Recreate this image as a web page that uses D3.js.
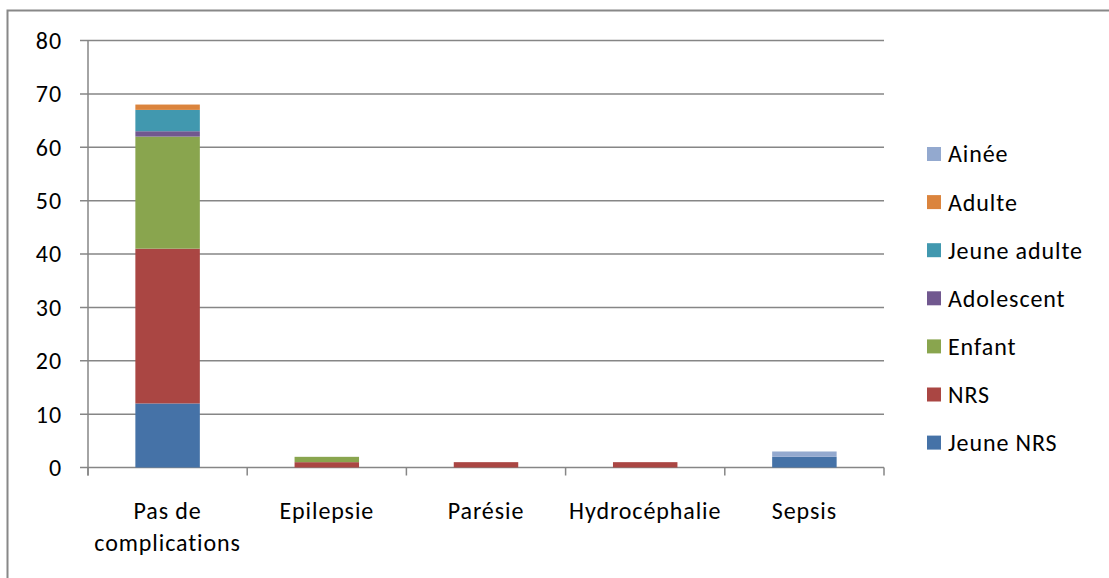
<!DOCTYPE html>
<html><head><meta charset="utf-8">
<script src="https://cdn.jsdelivr.net/npm/d3@7"></script>
<style>body{margin:0;background:#fff}svg text{font-family:"Carlito","Lato","Open Sans",sans-serif;fill:#000;letter-spacing:0.9px}</style>
</head><body>
<svg id="c" width="1109" height="578"></svg>
<script>
const categories = ["Pas de complications","Epilepsie","Parésie","Hydrocéphalie","Sepsis"];
const categoryLines = [["Pas de","complications"],["Epilepsie"],["Parésie"],["Hydrocéphalie"],["Sepsis"]];
const seriesNames = ["Jeune NRS","NRS","Enfant","Adolescent","Jeune adulte","Adulte","Ainée"];
const jeuneNRS   = [12,0,0,0,2];
const nrs        = [29,1,1,1,0];
const enfant     = [21,1,0,0,0];
const adolescent = [1,0,0,0,0];
const jeuneAdulte= [4,0,0,0,0];
const adulte     = [1,0,0,0,0];
const ainee      = [0,0,0,0,1];
const yTicks = [0,10,20,30,40,50,60,70,80];
const colors = ["#4572A7","#AA4643","#89A54E","#71588F","#4198AF","#DB843D","#93A9CF"];

const seriesValues = [jeuneNRS,nrs,enfant,adolescent,jeuneAdulte,adulte,ainee];
const rows = categories.map((c,i)=>{const r={cat:c};seriesNames.forEach((s,j)=>r[s]=seriesValues[j][i]);return r;});
const stacked = d3.stack().keys(seriesNames)(rows);

const svg = d3.select("#c");
svg.append("rect").attr("x",7.5).attr("y",10.5).attr("width",1200).attr("height",700)
  .attr("fill","none").attr("stroke","#888").attr("stroke-width",2);

const L=88, R=884, T=40.5, B=467.5;
const x = d3.scaleBand().domain(categories).range([L,R]).padding(0);
const y = d3.scaleLinear().domain([0,80]).range([B,T]);
const grey="#868686";

svg.append("g").selectAll("line").data(yTicks).join("line")
  .attr("x1",L-8).attr("x2",R).attr("y1",d=>y(d)).attr("y2",d=>y(d))
  .attr("stroke",grey).attr("stroke-width",1.5);
svg.append("line").attr("x1",L).attr("x2",L).attr("y1",T).attr("y2",B+8).attr("stroke",grey).attr("stroke-width",1.5);
const xb = categories.map(c=>x(c)).concat([R]);
svg.append("g").selectAll("line").data(xb).join("line")
  .attr("x1",d=>d).attr("x2",d=>d).attr("y1",B).attr("y2",B+8).attr("stroke",grey).attr("stroke-width",1.5);

svg.append("g").selectAll("text").data(yTicks).join("text")
  .attr("x",62).attr("y",d=>y(d)).attr("dy","0.35em").attr("text-anchor","end")
  .style("font-size","24px").text(d=>d);

const bw = x.bandwidth()*0.405;
svg.append("g").selectAll("g").data(stacked).join("g").attr("fill",(d,i)=>colors[i])
  .selectAll("rect").data(d=>d).join("rect")
  .attr("x",d=>x(d.data.cat)+x.bandwidth()/2-bw/2).attr("width",bw)
  .attr("y",d=>y(d[1])).attr("height",d=>y(d[0])-y(d[1]));

categories.forEach((c,i)=>{
  const cx = x(c)+x.bandwidth()/2;
  const t = svg.append("text").attr("x",cx).attr("y",519)
    .attr("text-anchor","middle").style("font-size","24px");
  categoryLines[i].forEach((ln,k)=>t.append("tspan").attr("x",cx).attr("dy",k?32:0).text(ln));
});

const legOrder = seriesNames.map((s,i)=>i).reverse();
const lg = svg.append("g").selectAll("g").data(legOrder).join("g")
  .attr("transform",(d,k)=>`translate(927,${154+k*48.1})`);
lg.append("rect").attr("x",0).attr("y",-7).attr("width",14).attr("height",14).attr("fill",d=>colors[d]);
lg.append("text").attr("x",21).attr("y",0).attr("dy","0.35em").style("font-size","24px").text(d=>seriesNames[d]);
</script>
</body></html>
